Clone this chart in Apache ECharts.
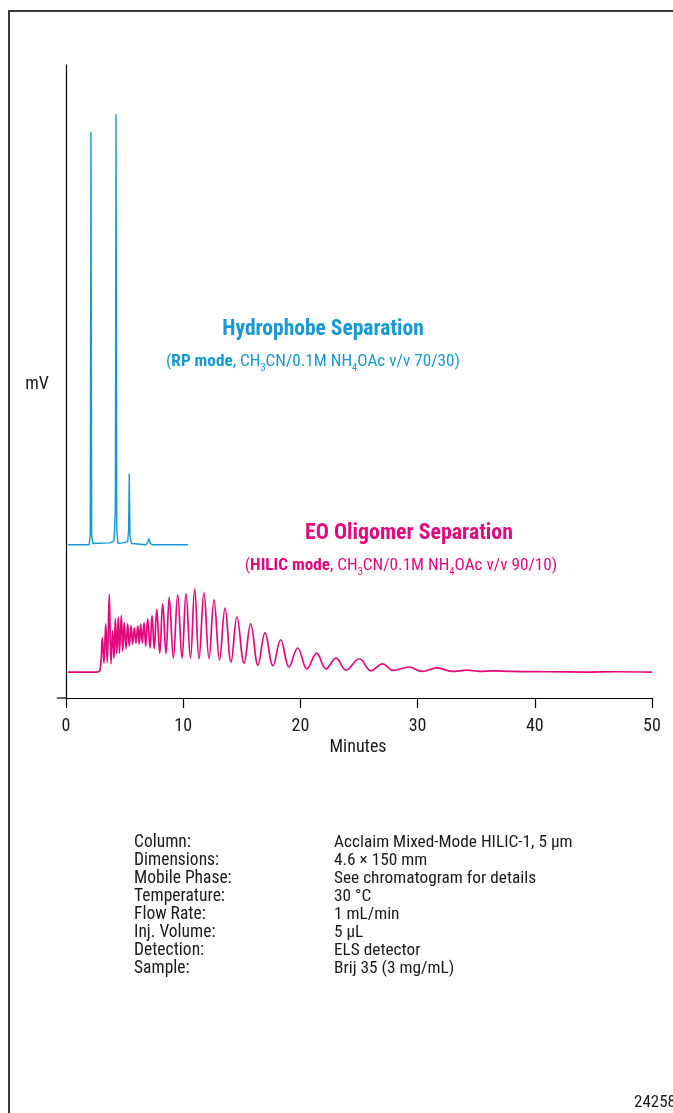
<!DOCTYPE html>
<html>
<head>
<meta charset="utf-8">
<script src="https://cdn.jsdelivr.net/npm/echarts@6/dist/echarts.min.js"></script>
<style>
html,body{margin:0;padding:0;background:#fff;}
#chart{width:673px;height:1113px;}
</style>
</head>
<body>
<div id="chart"></div>
<script>
// ---- Data ----
const xTicks = [0, 10, 20, 30, 40, 50];

// RP mode (Hydrophobe separation) trace: time (min), signal (mV)
const rpTime   = [0.17, 1.96, 2.07, 2.13, 2.19, 2.30, 3.75, 4.10, 4.21, 4.27, 4.33, 4.44, 4.86, 5.26, 5.34, 5.40, 5.46, 5.59, 6.83, 7.00, 7.08, 7.20, 7.42, 10.41];
const rpSignal = [24.2, 24.2, 25.6, 89.4, 25.6, 24.4, 24.5, 24.8, 29.6, 92.2, 26.4, 24.4, 24.5, 24.7, 26.4, 35.4, 25.6, 24.4, 24.2, 24.7, 25.2, 24.4, 24.2, 24.2];

// HILIC mode (EO oligomer separation) trace: time (min), signal (mV)
const hilicTime = [0.17, 2.56, 2.90, 3.10, 3.24, 3.39, 3.52, 3.69, 3.84, 3.98, 4.10, 4.21, 4.33, 4.46, 4.56, 4.72, 4.84, 4.97, 5.12, 5.26, 5.40, 5.55, 5.69, 5.83, 5.97, 6.12, 6.25, 6.37, 6.51, 6.66, 6.80, 6.97, 7.17, 7.34, 7.53, 7.74, 8.00, 8.25, 8.53, 8.81, 9.16, 9.53, 9.90, 10.24, 10.62, 10.98, 11.35, 11.77, 12.20, 12.63, 13.10, 13.57, 14.08, 14.59, 15.19, 15.76, 16.38, 16.98, 17.66, 18.32, 19.03, 19.77, 20.56, 21.39, 22.18, 23.04, 23.89, 25.03, 26.02, 27.02, 27.90, 29.27, 30.38, 31.66, 32.94, 34.22, 35.32, 36.43, 38.0, 41.0, 44.5, 47.0, 50.0];
const hilicSignal = [4.1, 4.1, 4.4, 9.5, 5.5, 11.7, 5.6, 16.4, 5.4, 10.6, 6.3, 12.5, 7.0, 12.8, 7.1, 13.0, 7.4, 11.9, 7.8, 11.7, 8.2, 11.4, 8.5, 11.1, 8.7, 11.4, 8.5, 11.7, 8.7, 11.9, 8.2, 12.5, 7.9, 13.0, 7.8, 14.0, 7.1, 14.9, 7.0, 15.9, 6.3, 16.3, 6.3, 16.5, 6.3, 17.2, 6.2, 16.6, 6.2, 15.5, 6.0, 14.2, 5.7, 12.8, 5.5, 11.7, 5.2, 10.3, 5.1, 9.2, 4.9, 7.9, 4.6, 7.1, 4.6, 6.3, 4.4, 6.2, 4.3, 5.4, 4.35, 4.9, 4.2, 4.75, 4.2, 4.4, 4.2, 4.3, 4.2, 4.15, 4.1, 4.15, 4.1];

const paramLabels = ['Column:', 'Dimensions:', 'Mobile Phase:', 'Temperature:', 'Flow Rate:', 'Inj. Volume:', 'Detection:', 'Sample:'];
const paramValues = ['Acclaim Mixed-Mode HILIC-1, 5 µm', '4.6 × 150 mm', 'See chromatogram for details', '30 °C', '1 mL/min', '5 µL', 'ELS detector', 'Brij 35 (3 mg/mL)'];

// ---- Chart ----
const FONT = "'Liberation Sans Narrow', 'Roboto Condensed', 'DejaVu Sans Condensed', 'Arial Narrow', sans-serif";
const BLUE = '#1598d4';
const PINK = '#e4087f';
const TXT = '#1a1a1a';

const rpData = rpTime.map((t, i) => [t, rpSignal[i]]);
const hilicData = hilicTime.map((t, i) => [t, hilicSignal[i]]);

function subRich(color) {
  return {
    p: { fontFamily: FONT, fontSize: 17.2, lineHeight: 24, fill: color, color: color },
    b: { fontFamily: FONT, fontSize: 17.2, lineHeight: 24, fontWeight: 'bold', fill: color, color: color },
    s: { fontFamily: FONT, fontSize: 10.5, lineHeight: 10, verticalAlign: 'bottom', fill: color, color: color }
  };
}

const graphics = [
  { type: 'rect', shape: { x: 9, y: 11, width: 800, height: 1200 }, style: { fill: 'none', stroke: '#3a3a3a', lineWidth: 2 }, silent: true },
  { type: 'line', shape: { x1: 57, y1: 698, x2: 66, y2: 698 }, style: { stroke: '#000', lineWidth: 1.2 } },
  { type: 'text', x: 37, y: 384, style: { text: 'mV', fontFamily: FONT, fontSize: 18, fill: TXT, textAlign: 'center', textVerticalAlign: 'middle' } },
  { type: 'text', x: 358, y: 747, style: { text: 'Minutes', fontFamily: FONT, fontSize: 18, fill: TXT, textAlign: 'center', textVerticalAlign: 'middle' } },
  { type: 'text', x: 323, y: 330, style: { text: 'Hydrophobe Separation', fontFamily: FONT, fontSize: 21.5, fontWeight: 'bold', fill: BLUE, textAlign: 'center', textVerticalAlign: 'middle' } },
  { type: 'text', x: 313, y: 362, style: { text: '{p|(}{b|RP mode}{p|, CH}{s|3}{p|CN/0.1M NH}{s|4}{p|OAc v/v 70/30)}', rich: subRich(BLUE), textAlign: 'center', textVerticalAlign: 'middle' } },
  { type: 'text', x: 409, y: 534, style: { text: 'EO Oligomer Separation', fontFamily: FONT, fontSize: 21.8, fontWeight: 'bold', fill: PINK, textAlign: 'center', textVerticalAlign: 'middle' } },
  { type: 'text', x: 401, y: 566, style: { text: '{p|(}{b|HILIC mode}{p|, CH}{s|3}{p|CN/0.1M NH}{s|4}{p|OAc v/v 90/10)}', rich: subRich(PINK), textAlign: 'center', textVerticalAlign: 'middle' } },
  { type: 'text', x: 634, y: 1103, style: { text: '24258', fontFamily: FONT, fontSize: 17, fill: TXT, textAlign: 'left', textVerticalAlign: 'middle' } }
];
paramLabels.forEach((lab, i) => {
  graphics.push({ type: 'text', x: 134, y: 843 + i * 18, style: { text: lab, fontFamily: FONT, fontSize: 17.5, fill: TXT, textAlign: 'left', textVerticalAlign: 'middle' } });
  graphics.push({ type: 'text', x: 334, y: 843 + i * 18, style: { text: paramValues[i], fontFamily: FONT, fontSize: 17.3, fill: TXT, textAlign: 'left', textVerticalAlign: 'middle' } });
});

const chart = echarts.init(document.getElementById('chart'), null, { renderer: 'canvas' });
chart.setOption({
  animation: false,
  backgroundColor: '#fff',
  grid: { left: 66, right: 21, top: 65, bottom: 415 },
  xAxis: {
    type: 'value', min: xTicks[0], max: xTicks[xTicks.length - 1], interval: 10,
    axisLine: { onZero: false, lineStyle: { color: '#000', width: 1.2 } },
    axisTick: { length: 10, lineStyle: { color: '#000', width: 1.2 } },
    axisLabel: { margin: 19, fontFamily: FONT, fontSize: 18, color: TXT },
    splitLine: { show: false }
  },
  yAxis: {
    type: 'value', min: 0, max: 100,
    axisLine: { show: true, lineStyle: { color: '#000', width: 1.2 } },
    axisTick: { show: false }, axisLabel: { show: false }, splitLine: { show: false }
  },
  series: [
    { type: 'line', data: rpData, showSymbol: false, smooth: false, lineStyle: { color: BLUE, width: 1.4 } },
    { type: 'line', data: hilicData, showSymbol: false, smooth: 0.4, lineStyle: { color: PINK, width: 1.7 } }
  ],
  graphic: graphics
});
</script>
</body>
</html>
